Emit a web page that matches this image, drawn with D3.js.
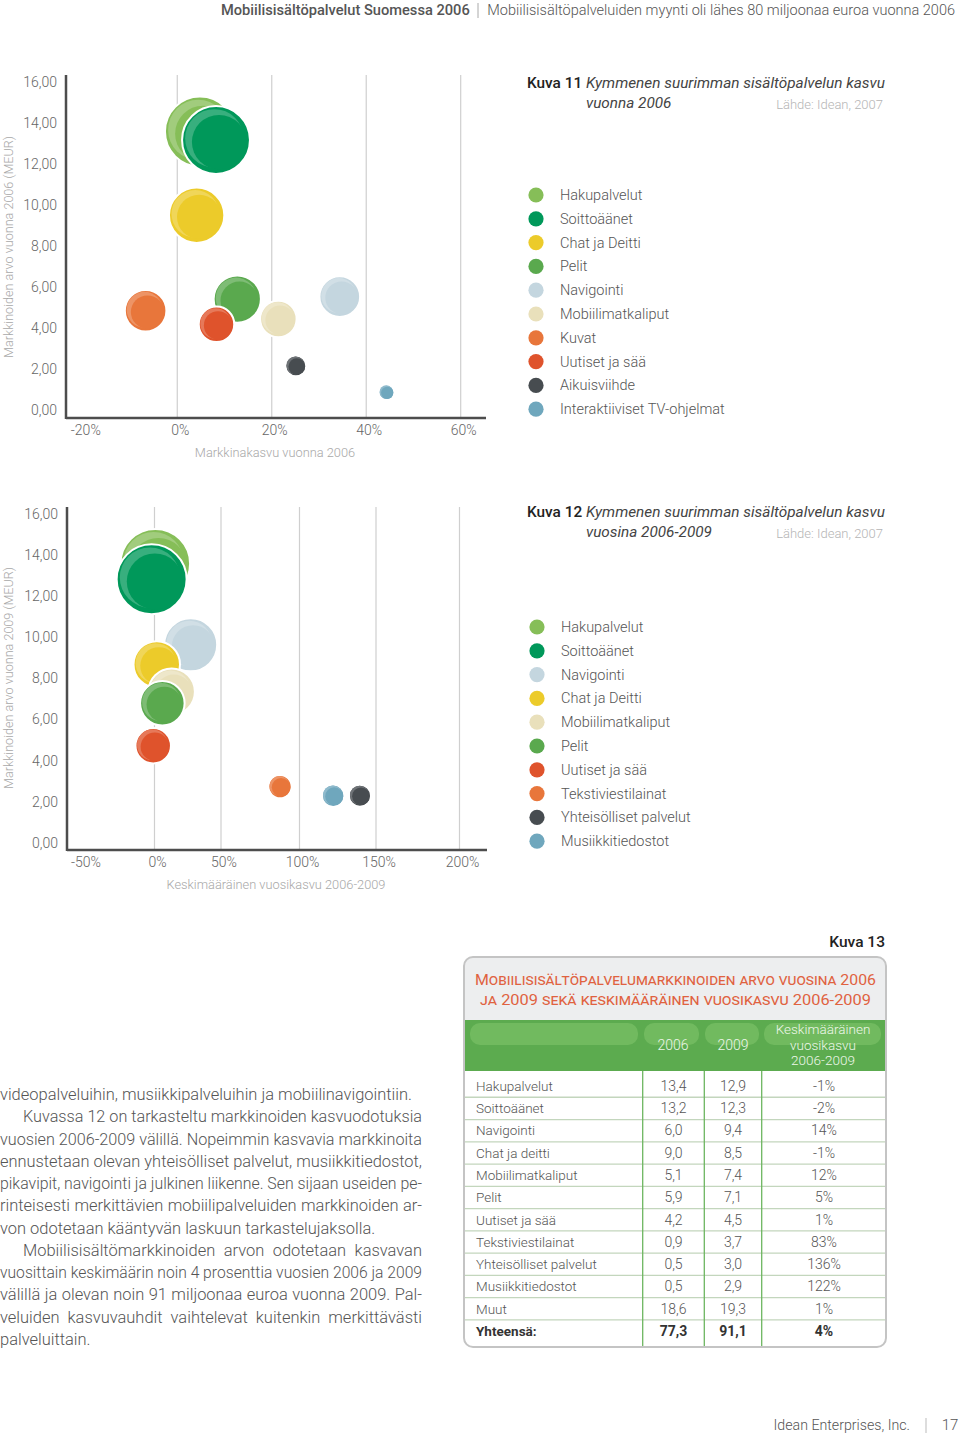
<!DOCTYPE html>
<html><head><meta charset="utf-8">
<script src="https://cdn.jsdelivr.net/npm/d3@7/dist/d3.min.js"></script>
<style>
html,body{margin:0;padding:0;background:#fff;}
svg text{font-family:Roboto,"Open Sans",sans-serif;}
</style></head>
<body><svg id="c" width="960" height="1435"></svg>
<script>
// ---------- DATA ----------
const cats1 = ["Hakupalvelut","Soittoäänet","Chat ja Deitti","Pelit","Navigointi","Mobiilimatkaliput","Kuvat","Uutiset ja sää","Aikuisviihde","Interaktiiviset TV-ohjelmat"];
const growth1 = [4.8, 8.2, 4.1, 12.7, 34.4, 21.4, -6.7, 8.3, 25.1, 44.3];
const value1 = [13.58, 13.17, 9.5, 5.41, 5.53, 4.44, 4.84, 4.18, 2.15, 0.86];
const size1 = [13.6, 12.8, 8.5, 6.2, 4.6, 3.7, 4.8, 3.5, 1.2, 0.66];

const cats2 = ["Hakupalvelut","Soittoäänet","Navigointi","Chat ja Deitti","Mobiilimatkaliput","Pelit","Uutiset ja sää","Tekstiviestilainat","Yhteisölliset palvelut","Musiikkitiedostot"];
const growth2 = [0.6, -2, 27.2, 1.7, 12.9, 5.9, -0.9, 87.6, 139.5, 122];
const value2 = [13.58, 12.82, 9.63, 8.68, 7.35, 6.79, 4.72, 2.73, 2.29, 2.29];
const size2 = [13.45, 13.6, 7.8, 6.0, 6.0, 5.5, 3.5, 1.5, 1.34, 1.4];

const yTicks = [0, 2, 4, 6, 8, 10, 12, 14, 16];
const xTicks1 = [-20, 0, 20, 40, 60];
const xTicks2 = [-50, 0, 50, 100, 150, 200];

const colorOf = {
  "Hakupalvelut":"#86be58","Soittoäänet":"#00985a","Chat ja Deitti":"#eccb2a","Pelit":"#5aa94e",
  "Navigointi":"#c4d6df","Mobiilimatkaliput":"#e9e0bb","Kuvat":"#e8763b","Tekstiviestilainat":"#e8763b",
  "Uutiset ja sää":"#df532c","Aikuisviihde":"#474c50","Yhteisölliset palvelut":"#474c50",
  "Interaktiiviset TV-ohjelmat":"#6fa7bd","Musiikkitiedostot":"#6fa7bd"
};

const tableNames = ["Hakupalvelut","Soittoäänet","Navigointi","Chat ja deitti","Mobiilimatkaliput","Pelit","Uutiset ja sää","Tekstiviestilainat","Yhteisölliset palvelut","Musiikkitiedostot","Muut","Yhteensä:"];
const table2006 = ["13,4","13,2","6,0","9,0","5,1","5,9","4,2","0,9","0,5","0,5","18,6","77,3"];
const table2009 = ["12,9","12,3","9,4","8,5","7,4","7,1","4,5","3,7","3,0","2,9","19,3","91,1"];
const tableGrowth = ["-1%","-2%","14%","-1%","12%","5%","1%","83%","136%","122%","1%","4%"];

const paragraph = [
  {t:"videopalveluihin, musiikkipalveluihin ja mobiilinavigointiin.", indent:0, just:false},
  {t:"Kuvassa 12 on tarkasteltu markkinoiden kasvuodotuksia", indent:1, just:true},
  {t:"vuosien 2006-2009 välillä. Nopeimmin kasvavia markkinoita", indent:0, just:true},
  {t:"ennustetaan olevan yhteisölliset palvelut, musiikkitiedostot,", indent:0, just:true},
  {t:"pikavipit, navigointi ja julkinen liikenne. Sen sijaan useiden pe-", indent:0, just:true},
  {t:"rinteisesti merkittävien mobiilipalveluiden markkinoiden ar-", indent:0, just:true},
  {t:"von odotetaan kääntyvän laskuun tarkastelujaksolla.", indent:0, just:false},
  {t:"Mobiilisisältömarkkinoiden arvon odotetaan kasvavan", indent:1, just:true},
  {t:"vuosittain keskimäärin noin 4 prosenttia vuosien 2006 ja 2009", indent:0, just:true},
  {t:"välillä ja olevan noin 91 miljoonaa euroa vuonna 2009. Pal-", indent:0, just:true},
  {t:"veluiden kasvuvauhdit vaihtelevat kuitenkin merkittävästi", indent:0, just:true},
  {t:"palveluittain.", indent:0, just:false}
];

// ---------- DRAW ----------
const svg = d3.select("#c");
svg.append("rect").attr("width",960).attr("height",1435).attr("fill","#fff");

// header (font size fitted to the reference widths, no glyph stretching)
function fitText(x, y, str, width, weight, anchor){
  const t = svg.append("text").attr("x",x).attr("y",y).attr("font-size",15).attr("font-weight",weight)
    .attr("fill","#555").attr("text-anchor",anchor).text(str);
  const w = t.node().getComputedTextLength();
  t.attr("font-size", Math.min(15, 15*width/w));
  return t;
}
fitText(221, 15, "Mobiilisisältöpalvelut Suomessa 2006", 249, 500, "start");
fitText(955, 15, "Mobiilisisältöpalveluiden myynti oli lähes 80 miljoonaa euroa vuonna 2006", 468, 300, "end");
svg.append("line").attr("x1",478).attr("x2",478).attr("y1",3).attr("y2",18).attr("stroke","#aaa").attr("stroke-width",1);

const rScale = d3.scaleSqrt().domain([0,14]).range([0,35.5]);

function bubble(g, cx, cy, r, color){
  const light = d3.interpolateRgb(color, "#ffffff")(0.22);
  g.append("circle").attr("cx",cx).attr("cy",cy).attr("r",r).attr("fill",color).attr("stroke","#fff").attr("stroke-width",2);
  g.append("circle").attr("cx",cx-0.05*r).attr("cy",cy-0.05*r).attr("r",r*0.86).attr("fill",light);
  g.append("circle").attr("cx",cx+0.09*r).attr("cy",cy+0.06*r).attr("r",r*0.8).attr("fill",color);
}

function chart(opt){
  const g = svg.append("g");
  const {x, y, top, bottom, left, right, xt, yTitle, xTitle, xTitleX, yTitleY, cats, gx, vy, sz} = opt;
  g.selectAll(".grid").data(xt.filter(d=>d>=0)).join("line")
    .attr("x1",d=>x(d)).attr("x2",d=>x(d)).attr("y1",top).attr("y2",bottom)
    .attr("stroke","#cfcfcf").attr("stroke-width",1.2);
  g.selectAll(".yl").data(yTicks).join("text")
    .attr("x",left-9).attr("y",d=>y(d)+5).attr("text-anchor","end")
    .attr("font-size",14).attr("font-weight",300).attr("fill","#666")
    .text(d=>d3.format(".2f")(d).replace(".",","));
  g.selectAll(".xl").data(xt).join("text")
    .attr("x",d=>x(d)+3).attr("y",bottom+17).attr("text-anchor","middle")
    .attr("font-size",14).attr("font-weight",300).attr("fill","#666")
    .text(d=>d+"%");
  cats.forEach((c,i)=>{
    bubble(g, x(gx[i]), y(vy[i]), rScale(sz[i]), colorOf[c]);
  });
  g.append("line").attr("x1",left).attr("x2",left).attr("y1",top).attr("y2",bottom+1).attr("stroke","#4d4d4d").attr("stroke-width",2.5);
  g.append("line").attr("x1",left).attr("x2",right).attr("y1",bottom).attr("y2",bottom).attr("stroke","#4d4d4d").attr("stroke-width",2.5);
  g.append("text").attr("x",xTitleX).attr("y",bottom+39).attr("text-anchor","middle")
    .attr("font-size",12.8).attr("font-weight",300).attr("fill","#a8a8a8").text(xTitle);
  g.append("text").attr("transform",`translate(13,${yTitleY}) rotate(-90)`).attr("text-anchor","middle")
    .attr("font-size",12.6).attr("font-weight",300).attr("fill","#a8a8a8").text(yTitle);
}

const x1 = d3.scaleLinear().domain([-20,60]).range([82.8,460.7]);
const y1 = d3.scaleLinear().domain([0,16]).range([410,82]);
chart({x:x1, y:y1, top:75, bottom:418, left:66, right:486, xt:xTicks1,
  yTitle:"Markkinoiden arvo vuonna 2006 (MEUR)", xTitle:"Markkinakasvu vuonna 2006", xTitleX:275, yTitleY:247,
  cats:cats1, gx:growth1, vy:value1, sz:size1});

const x2 = d3.scaleLinear().domain(xTicks2).range([83,154.5,221,299.5,376,459.5]);
const y2 = d3.scaleLinear().domain([0,16]).range([842.7,514]);
chart({x:x2, y:y2, top:507, bottom:850, left:67, right:487, xt:xTicks2,
  yTitle:"Markkinoiden arvo vuonna 2009 (MEUR)", xTitle:"Keskimääräinen vuosikasvu 2006-2009", xTitleX:276, yTitleY:678,
  cats:cats2, gx:growth2, vy:value2, sz:size2});

// legends + titles
function legend(opt){
  const g = svg.append("g");
  const t = g.append("text").attr("x",527).attr("y",opt.ty).attr("font-size",15.3)
    .attr("textLength",358).attr("lengthAdjust","spacingAndGlyphs");
  t.append("tspan").attr("font-weight",500).attr("fill","#222").text(opt.kuva+" ");
  t.append("tspan").attr("font-style","italic").attr("font-weight",400).attr("fill","#444").text("Kymmenen suurimman sisältöpalvelun kasvu");
  g.append("text").attr("x",586).attr("y",opt.ty+20).attr("font-size",15.3).attr("font-style","italic").attr("fill","#444").text(opt.line2);
  g.append("text").attr("x",883).attr("y",opt.ty+21).attr("font-size",13).attr("font-weight",300).attr("text-anchor","end").attr("fill","#b5b5b5").text("Lähde: Idean, 2007");
  opt.cats.forEach((c,i)=>{
    const yy = opt.ly + i*23.8;
    g.append("circle").attr("cx",opt.cx).attr("cy",yy).attr("r",7.6).attr("fill",colorOf[c]);
    g.append("text").attr("x",opt.tx).attr("y",yy+5).attr("font-size",14.5).attr("font-weight",300).attr("fill","#555").text(c);
  });
}
legend({kuva:"Kuva 11", ty:88, line2:"vuonna 2006", cats:cats1, ly:195, cx:536, tx:560});
legend({kuva:"Kuva 12", ty:517, line2:"vuosina 2006-2009", cats:cats2, ly:627, cx:537, tx:561});

// ---------- TABLE ----------
const tb = svg.append("g");
tb.append("text").attr("x",885).attr("y",947).attr("text-anchor","end").attr("font-size",15.5).attr("font-weight",500).attr("fill","#222").text("Kuva 13");
const TL=464, TR=886, TT=957, TB=1347;
tb.append("rect").attr("x",TL).attr("y",TT).attr("width",TR-TL).attr("height",TB-TT).attr("rx",9).attr("fill","#fff");
tb.append("path").attr("d",`M${TL},1020 L${TL},${TT+9} Q${TL},${TT} ${TL+9},${TT} L${TR-9},${TT} Q${TR},${TT} ${TR},${TT+9} L${TR},1020 Z`).attr("fill","#edeeef");
const titleLines = ["Mobiilisisältöpalvelumarkkinoiden arvo vuosina 2006","ja 2009 sekä keskimääräinen vuosikasvu 2006-2009"];
const titleW = [401, 391];
titleLines.forEach((l,i)=>{
  tb.append("text").attr("x",675.5).attr("y",985+i*19.5).attr("text-anchor","middle")
    .attr("font-family","'DejaVu Sans',sans-serif").style("font-variant","small-caps")
    .attr("font-size",15.5).attr("fill","#e0623f")
    .attr("textLength",titleW[i]).attr("lengthAdjust","spacingAndGlyphs").text(l);
});
tb.append("rect").attr("x",TL).attr("y",1020).attr("width",TR-TL).attr("height",51).attr("fill","#5cab4f");
const colX = [TL, 642.7, 704.3, 761.7, TR];
const pills = [[470,638],[644,699],[705,759],[764,881]];
pills.forEach(p=>tb.append("rect").attr("x",p[0]).attr("y",1023).attr("width",p[1]-p[0]).attr("height",22).attr("rx",10).attr("fill","#71ba5f"));
const hdrTxt = tb.append("g").attr("font-size",14).attr("font-weight",300).attr("fill","#eef7ea").attr("text-anchor","middle");
hdrTxt.append("text").attr("x",673).attr("y",1050).text("2006");
hdrTxt.append("text").attr("x",733).attr("y",1050).text("2009");
["Keskimääräinen","vuosikasvu","2006-2009"].forEach((s,i)=>hdrTxt.append("text").attr("x",823).attr("y",1034+i*15.5).attr("font-size",13.5).text(s));
const rowH = 22.27, row0 = 1075;
const yRow = d3.scaleBand().domain(d3.range(tableNames.length)).range([row0, row0+rowH*tableNames.length]);
tableNames.forEach((n,i)=>{
  const yy = yRow(i);
  if(i>0) tb.append("line").attr("x1",TL).attr("x2",TR).attr("y1",yy).attr("y2",yy).attr("stroke","#c3d6bd").attr("stroke-width",1.3);
  const bold = i===tableNames.length-1;
  const fw = bold?700:300, fc = bold?"#333":"#555";
  const cy = yy + rowH/2 + 4.8;
  tb.append("text").attr("x",476).attr("y",cy).attr("font-size",13.5).attr("font-weight",fw).attr("fill",fc).text(n);
  tb.append("text").attr("x",673.5).attr("y",cy).attr("text-anchor","middle").attr("font-size",14).attr("font-weight",fw).attr("fill",fc).text(table2006[i]);
  tb.append("text").attr("x",733).attr("y",cy).attr("text-anchor","middle").attr("font-size",14).attr("font-weight",fw).attr("fill",fc).text(table2009[i]);
  tb.append("text").attr("x",824).attr("y",cy).attr("text-anchor","middle").attr("font-size",14).attr("font-weight",fw).attr("fill",fc).text(tableGrowth[i]);
});
[colX[1],colX[2],colX[3]].forEach(xx=>tb.append("line").attr("x1",xx).attr("x2",xx).attr("y1",1071).attr("y2",TB).attr("stroke","#6db660").attr("stroke-width",1.3));
tb.append("rect").attr("x",TL).attr("y",TT).attr("width",TR-TL).attr("height",TB-TT).attr("rx",9).attr("fill","none").attr("stroke","#c4c4c4").attr("stroke-width",2);

// ---------- PARAGRAPH ----------
const pg = svg.append("g");
const FS = 16.8;
const probe = pg.append("text").attr("font-size",FS).attr("font-weight",300).text(paragraph[0].t);
const k = 412/probe.node().getComputedTextLength();
probe.remove();
paragraph.forEach((p,i)=>{
  const x0 = p.indent?23:0;
  const t = pg.append("text").attr("x",x0).attr("y",1100+i*22.27).attr("font-size",FS).attr("font-weight",300).attr("fill","#555").text(p.t);
  const w = t.node().getComputedTextLength();
  if(p.just){
    const target = 422 - x0;
    const sp = (p.t.match(/ /g)||[]).length;
    const extra = target/k - w;
    if(extra > 0 && sp > 0) t.attr("word-spacing", extra/sp);
    t.attr("textLength",target).attr("lengthAdjust","spacingAndGlyphs");
  } else {
    t.attr("textLength",w*k).attr("lengthAdjust","spacingAndGlyphs");
  }
});

// footer
svg.append("text").attr("x",910).attr("y",1430).attr("text-anchor","end").attr("font-size",14.2).attr("font-weight",300).attr("fill","#555").text("Idean Enterprises, Inc.");
svg.append("line").attr("x1",926).attr("x2",926).attr("y1",1418).attr("y2",1433).attr("stroke","#bbb");
svg.append("text").attr("x",950).attr("y",1430).attr("text-anchor","middle").attr("font-size",15).attr("font-weight",300).attr("fill","#555").text("17");
</script></body></html>
